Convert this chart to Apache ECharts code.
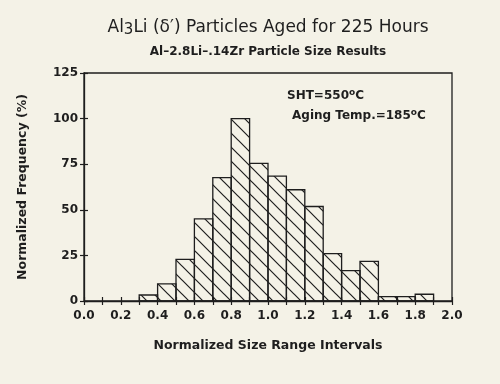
<!DOCTYPE html>
<html>
<head>
<meta charset="utf-8">
<script src="https://cdn.jsdelivr.net/npm/echarts@6/dist/echarts.min.js"></script>
<style>
html,body{margin:0;padding:0;background:#f4f2e7;}
#c{width:500px;height:384px;}
</style>
</head>
<body>
<div id="c"></div>
<script>
// Data
const binStart = [0.3,0.4,0.5,0.6,0.7,0.8,0.9,1.0,1.1,1.2,1.3,1.4,1.5,1.6,1.7,1.8];
const binEnd   = [0.4,0.5,0.6,0.7,0.8,0.9,1.0,1.1,1.2,1.3,1.4,1.5,1.6,1.7,1.8,1.9];
const frequency = [3.3,9.4,22.8,45,67.6,100,75.5,68.5,61,51.8,26,16.7,21.7,2.4,2.4,3.7];
const xTickLabels = ['0.0','0.2','0.4','0.6','0.8','1.0','1.2','1.4','1.6','1.8','2.0'];
const yTickLabels = ['0','25','50','75','100','125'];

const ink = '#1e1e1e';
const font = '"DejaVu Sans", sans-serif';

// hatch pattern
const tile = document.createElement('canvas');
tile.width = 14; tile.height = 14;
const g = tile.getContext('2d');
g.strokeStyle = ink; g.lineWidth = 1.2;
g.beginPath();
g.moveTo(-2,-2); g.lineTo(16,16);
g.moveTo(-2,12); g.lineTo(2,16);
g.moveTo(12,-2); g.lineTo(16,2);
g.stroke();
const hatch = {image: tile, repeat: 'repeat'};

const data = binStart.map((s,i)=>[s, binEnd[i], frequency[i]]);

const chart = echarts.init(document.getElementById('c'), null, {renderer:'canvas'});
const tickStyle = {color: ink, width: 1.2};
chart.setOption({
  backgroundColor: '#f4f2e7',
  animation: false,
  title: [
    {
      text: '{a|Al}{s|3}{a|Li (δ\u2032) Particles Aged for 225 Hours}',
      left: 268, textAlign: 'center', top: 17, padding: 0,
      textStyle: {
        fontWeight: 'normal',
        rich: {
          a: {fontFamily: font, fontSize: 17, color: ink, fontWeight: 'normal'},
          s: {fontFamily: font, fontSize: 15, color: ink, fontWeight: 'normal', padding: [6,0,0,0]}
        }
      }
    },
    {
      text: 'Al\u20132.8Li\u2013.14Zr Particle Size Results',
      left: 268, textAlign: 'center', top: 46, padding: 0,
      textStyle: {fontFamily: font, fontSize: 12, fontWeight: 'bold', color: ink}
    },
    {
      text: '{a|SHT=550}{o|o}{a|C}',
      left: 287, top: 88, padding: 0,
      textStyle: {rich: {
        a: {fontFamily: font, fontSize: 12, fontWeight: 'bold', color: ink},
        o: {fontFamily: font, fontSize: 9, fontWeight: 'bold', color: ink, padding: [0,0,6,0]}
      }}
    },
    {
      text: '{a|Aging Temp.=185}{o|o}{a|C}',
      left: 292, top: 108, padding: 0,
      textStyle: {rich: {
        a: {fontFamily: font, fontSize: 12, fontWeight: 'bold', color: ink},
        o: {fontFamily: font, fontSize: 9, fontWeight: 'bold', color: ink, padding: [0,0,6,0]}
      }}
    }
  ],
  grid: {left: 84, right: 48, top: 73, bottom: 83, show: true, borderColor: ink, borderWidth: 1.3, backgroundColor: 'transparent'},
  xAxis: [{
    type: 'value', min: 0, max: 2, interval: 0.2,
    name: 'Normalized Size Range Intervals', nameLocation: 'middle', nameGap: 38,
    nameTextStyle: {fontFamily: font, fontSize: 12.5, fontWeight: 'bold', color: ink},
    axisLine: {lineStyle: {color: ink, width: 1.3}},
    axisTick: {show: true, length: 4, lineStyle: tickStyle},
    minorTick: {show: true, splitNumber: 2, length: 4, lineStyle: tickStyle},
    splitLine: {show: false},
    axisLabel: {fontFamily: font, fontSize: 12, fontWeight: 'bold', color: ink, margin: 9,
      formatter: (v)=> xTickLabels[Math.round(v/0.2)]}
  }, {
    type: 'value', min: 0, max: 2, interval: 0.2, position: 'bottom',
    axisLine: {show: false},
    axisTick: {show: true, inside: true, length: 4, lineStyle: tickStyle},
    minorTick: {show: true, splitNumber: 2, length: 4, lineStyle: tickStyle},
    splitLine: {show: false}, axisLabel: {show: false}
  }],
  yAxis: [{
    type: 'value', min: 0, max: 125, interval: 25,
    name: 'Normalized Frequency (%)', nameLocation: 'middle', nameGap: 55,
    nameTextStyle: {fontFamily: font, fontSize: 12.5, fontWeight: 'bold', color: ink},
    axisLine: {show: true, lineStyle: {color: ink, width: 1.3}},
    axisTick: {show: true, length: 4, lineStyle: tickStyle},
    splitLine: {show: false},
    axisLabel: {fontFamily: font, fontSize: 12, fontWeight: 'bold', color: ink, margin: 6,
      formatter: (v)=> yTickLabels[Math.round(v/25)]}
  }, {
    type: 'value', min: 0, max: 125, interval: 25, position: 'left',
    axisLine: {show: false},
    axisTick: {show: true, inside: true, length: 4, lineStyle: tickStyle},
    splitLine: {show: false}, axisLabel: {show: false}
  }],
  series: [{
    type: 'custom',
    data: data,
    renderItem: function(params, api){
      const p0 = api.coord([api.value(0), api.value(2)]);
      const p1 = api.coord([api.value(1), 0]);
      return {
        type: 'rect',
        shape: {x: p0[0], y: p0[1], width: p1[0]-p0[0], height: p1[1]-p0[1]},
        style: {fill: hatch, stroke: ink, lineWidth: 1.3}
      };
    }
  }]
});
</script>
</body>
</html>
